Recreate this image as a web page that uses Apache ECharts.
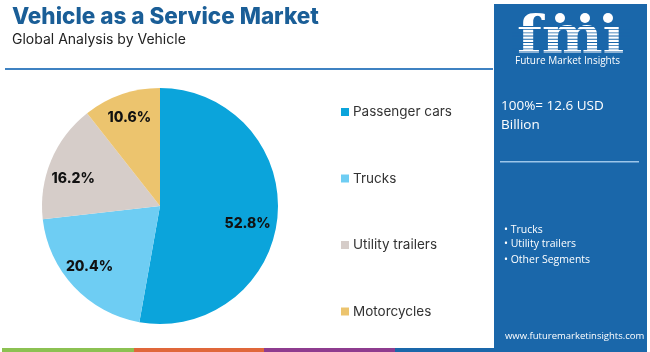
<!DOCTYPE html>
<html><head><meta charset="utf-8">
<script src="https://cdn.jsdelivr.net/npm/echarts@6/dist/echarts.min.js"></script>
<style>html,body{margin:0;padding:0;background:#fff}#c{width:650px;height:352px}</style>
</head><body><div id="c"></div>
<script>
const categories = ['Passenger cars', 'Trucks', 'Utility trailers', 'Motorcycles'];
const shares = [52.8, 20.4, 16.2, 10.6];
const sliceColors = ['#0ba4db', '#6ecdf3', '#d6cdc9', '#ecc46e'];
const panelBullets = ['Trucks', 'Utility trailers', 'Other Segments'];
const totalText = ['100%= 12.6 USD', 'Billion'];

const chart = echarts.init(document.getElementById('c'), null, {renderer: 'canvas'});
const labelNudges = [[-6, 10], [-2, -4], [0, 9], [0, 1]];
const data = categories.map((n, i) => ({name: n, value: shares[i], itemStyle: {color: sliceColors[i]}}));
const panelBlue = '#1a67aa';
const graphics = [
  {type: 'text', left: 12, top: 6, style: {text: 'Vehicle as a Service Market', font: '800 22.5px Inter', fill: '#1a5e97'}},
  {type: 'text', left: 12, top: 33, style: {text: 'Global Analysis by Vehicle', font: '14px Inter', fill: '#222'}},
  {type: 'rect', shape: {x: 5, y: 68, width: 488, height: 2}, style: {fill: '#3f82c2'}},
  {type: 'rect', shape: {x: 494, y: 4, width: 153, height: 348}, style: {fill: panelBlue}},
  {type: 'rect', shape: {x: 2, y: 348, width: 132, height: 4}, style: {fill: '#8cc152'}},
  {type: 'rect', shape: {x: 134, y: 348, width: 130, height: 4}, style: {fill: '#e0673a'}},
  {type: 'rect', shape: {x: 264, y: 348, width: 131, height: 4}, style: {fill: '#8e3c8f'}},
  {type: 'rect', shape: {x: 395, y: 348, width: 99, height: 4}, style: {fill: panelBlue}},
  // logo
  {type: 'text', x: 517, y: 13, scaleX: 1.15, scaleY: 1.05, style: {text: 'fm\u0131', font: 'bold 50px "DejaVu Serif"', fill: '#fff'}},
  {type: 'circle', shape: {cx: 560, cy: 18, r: 5}, style: {fill: '#fff'}},
  {type: 'circle', shape: {cx: 585, cy: 18, r: 5}, style: {fill: '#fff'}},
  {type: 'circle', shape: {cx: 608, cy: 18, r: 5}, style: {fill: '#fff'}},
  {type: 'text', left: 515, top: 56, style: {text: 'Future Market Insights', font: '10px "Open Sans"', fill: '#fff'}},
  {type: 'text', left: 501, top: 99, style: {text: totalText[0], font: '13.5px "Open Sans"', fill: '#fff'}},
  {type: 'text', left: 501, top: 118, style: {text: totalText[1], font: '13.5px "Open Sans"', fill: '#fff'}},
  {type: 'rect', shape: {x: 500, y: 161, width: 139, height: 1.5}, style: {fill: '#9cc6ea'}},
  {type: 'text', left: 505, top: 331, style: {text: 'www.futuremarketinsights.com', font: '9.5px "Open Sans"', fill: '#fff'}}
];
// stripes on the logo
for (let y = 26; y < 56; y += 3.2) {
  graphics.splice(12, 0, {type: 'rect', shape: {x: 512, y: y, width: 118, height: 0.9}, style: {fill: panelBlue}});
}
const bulletYs = [225, 239, 255];
panelBullets.forEach((t, i) => {
  graphics.push({type: 'text', left: 504, top: bulletYs[i], style: {text: '\u2022 ' + t, font: '10.5px "Open Sans"', fill: '#fff'}});
});

chart.setOption({
  animation: false,
  legend: {
    orient: 'vertical', left: 336, top: 100, itemGap: 52.5, itemWidth: 8, itemHeight: 8, icon: 'rect',
    textStyle: {fontFamily: 'Inter', fontSize: 13.5, color: '#333', padding: [0, 0, 0, -1]},
    data: categories
  },
  graphic: graphics,
  series: [
    {type: 'pie', center: [160, 206], radius: [0, 118], startAngle: 90, clockwise: true, label: {show: false},
     labelLine: {show: false}, data: data, silent: true},
    {type: 'pie', center: [160, 206], radius: [64, 118], startAngle: 90, clockwise: true, silent: true,
     itemStyle: {color: 'rgba(0,0,0,0)'}, legendHoverLink: false,
     label: {show: true, position: 'inside', formatter: p => p.value.toFixed(1) + '%', fontFamily: 'Inter', fontWeight: 800, fontSize: 14, color: '#111'},
     data: shares.map((v, i) => ({name: 'l' + i, value: v, label: {offset: labelNudges[i]}}))}
  ]
});
</script></body></html>
